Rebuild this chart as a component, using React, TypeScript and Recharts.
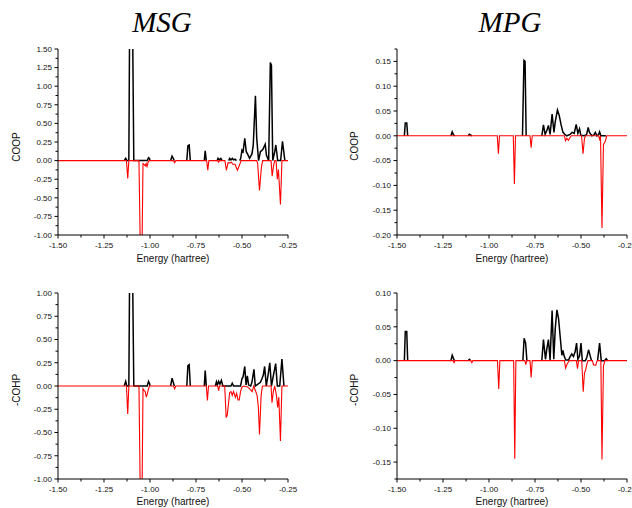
import React from 'react';
import { LineChart, Line, XAxis, YAxis } from 'recharts';

type Pt = [number, number | null];

const titles = ['MSG', 'MPG'];
const yLabels = ['COOP', '-COHP'];
const xLabel = 'Energy (hartree)';

const energyTicks = [-1.5, -1.25, -1.0, -0.75, -0.5, -0.25];
const msgCoopYTicks = [-1.0, -0.75, -0.5, -0.25, 0, 0.25, 0.5, 0.75, 1.0, 1.25, 1.5];
const msgCohpYTicks = [-1.0, -0.75, -0.5, -0.25, 0, 0.25, 0.5, 0.75, 1.0];
const mpgCoopYTicks = [-0.2, -0.15, -0.1, -0.05, 0, 0.05, 0.1, 0.15];
const mpgCohpYTicks = [-0.15, -0.1, -0.05, 0, 0.05, 0.1];

// MSG COOP (bonding, black) / (antibonding, red)
const msgCoopPos: Pt[] = [
  [-1.14, 0], [-1.132, 0.03], [-1.126, 0], [-1.115, 0], [-1.108, 3.0], [-1.099, 3.0], [-1.088, 0],
  [-1.06, 0], [-1.015, 0], [-1.008, 0.04], [-1.003, 0.03], [-1.0, 0], [-0.995, null],
  [-0.888, 0], [-0.88, 0.06], [-0.872, 0.02], [-0.868, 0], [-0.865, null],
  [-0.8, 0], [-0.794, 0.2], [-0.787, 0.21], [-0.781, 0], [-0.778, null],
  [-0.705, 0], [-0.7, 0.13], [-0.694, 0], [-0.69, null],
  [-0.635, 0], [-0.63, 0.03], [-0.624, 0.01], [-0.615, 0.03], [-0.608, 0], [-0.605, null],
  [-0.572, 0], [-0.567, 0.03], [-0.56, 0.01], [-0.552, 0.03], [-0.546, 0.01], [-0.538, 0.02], [-0.53, 0], [-0.527, null],
  [-0.512, 0], [-0.507, 0.03], [-0.5, 0.14], [-0.494, 0.12], [-0.485, 0.3], [-0.477, 0.12], [-0.468, 0.08],
  [-0.459, 0.03], [-0.446, 0.09], [-0.439, 0.2], [-0.427, 0.87], [-0.42, 0.3], [-0.41, 0], [-0.4, 0.12],
  [-0.387, 0.15], [-0.374, 0.22], [-0.367, 0.07], [-0.355, 0], [-0.346, 1.32], [-0.34, 1.28], [-0.333, 0],
  [-0.322, 0.12], [-0.316, 0.21], [-0.306, 0], [-0.29, 0], [-0.28, 0.26], [-0.267, 0],
];
const msgCoopNeg: Pt[] = [
  [-1.5, 0], [-1.128, 0], [-1.121, -0.24], [-1.115, 0], [-1.06, 0], [-1.052, -1.3], [-1.044, -1.3],
  [-1.038, -0.04], [-1.032, -0.05], [-1.026, -0.07], [-1.021, -0.04], [-1.016, -0.08], [-1.01, -0.02], [-1.005, 0],
  [-0.872, 0], [-0.866, -0.03], [-0.86, 0], [-0.692, 0], [-0.686, -0.13], [-0.68, 0],
  [-0.632, 0], [-0.627, -0.02], [-0.622, 0], [-0.593, 0], [-0.585, -0.13], [-0.576, -0.03], [-0.567, -0.03],
  [-0.558, -0.02], [-0.55, -0.05], [-0.538, -0.05], [-0.525, -0.13], [-0.512, -0.05], [-0.505, 0],
  [-0.42, 0], [-0.415, -0.04], [-0.405, -0.4], [-0.395, -0.1], [-0.388, 0],
  [-0.342, 0], [-0.336, -0.21], [-0.328, -0.06], [-0.322, 0], [-0.315, 0], [-0.308, -0.25], [-0.302, -0.12],
  [-0.291, -0.59], [-0.283, 0], [-0.25, 0],
];

// MSG -COHP
const msgCohpPos: Pt[] = [
  [-1.14, 0], [-1.132, 0.05], [-1.126, 0], [-1.115, 0], [-1.108, 2.0], [-1.099, 2.0], [-1.088, 0],
  [-1.06, 0], [-1.015, 0], [-1.008, 0.05], [-1.003, 0.03], [-1.0, 0], [-0.995, null],
  [-0.888, 0], [-0.88, 0.085], [-0.872, 0.03], [-0.868, 0], [-0.865, null],
  [-0.8, 0], [-0.794, 0.22], [-0.787, 0.23], [-0.781, 0], [-0.778, null],
  [-0.705, 0], [-0.7, 0.165], [-0.694, 0], [-0.69, null],
  [-0.645, 0], [-0.639, 0.045], [-0.634, 0.01], [-0.627, 0.05], [-0.62, 0.02], [-0.612, 0.06], [-0.604, 0],
  [-0.56, 0], [-0.553, 0.03], [-0.546, 0], [-0.508, 0], [-0.5, 0.08], [-0.494, 0.1], [-0.485, 0.21],
  [-0.478, 0.01], [-0.471, 0.11], [-0.464, 0.01], [-0.453, 0], [-0.446, 0.04], [-0.435, 0.18], [-0.428, 0],
  [-0.4, 0.04], [-0.391, 0.08], [-0.384, 0.12], [-0.377, 0.21], [-0.368, 0], [-0.359, 0.11], [-0.349, 0.25],
  [-0.34, 0], [-0.326, 0.15], [-0.317, 0.24], [-0.308, 0], [-0.295, 0], [-0.283, 0.29], [-0.272, 0],
];
const msgCohpNeg: Pt[] = [
  [-1.5, 0], [-1.128, 0], [-1.121, -0.3], [-1.115, 0], [-1.06, 0], [-1.052, -1.3], [-1.044, -1.3],
  [-1.038, -0.03], [-1.032, -0.05], [-1.026, -0.06], [-1.02, -0.12], [-1.014, -0.08], [-1.008, -0.03], [-1.003, 0],
  [-0.872, 0], [-0.866, -0.03], [-0.86, 0], [-0.694, 0], [-0.688, -0.155], [-0.682, 0],
  [-0.632, 0], [-0.627, -0.05], [-0.622, 0], [-0.594, 0], [-0.586, -0.34], [-0.58, -0.31], [-0.567, -0.07],
  [-0.56, -0.06], [-0.553, -0.1], [-0.546, -0.06], [-0.536, -0.12], [-0.529, -0.08], [-0.522, -0.15],
  [-0.515, -0.15], [-0.508, -0.06], [-0.5, -0.01], [-0.49, 0], [-0.47, -0.01], [-0.458, -0.03], [-0.445, -0.06],
  [-0.436, 0], [-0.418, -0.1], [-0.411, -0.23], [-0.405, -0.52], [-0.396, -0.1], [-0.389, 0],
  [-0.342, 0], [-0.337, -0.18], [-0.33, -0.06], [-0.322, 0], [-0.313, -0.1], [-0.306, -0.23], [-0.3, -0.12],
  [-0.291, -0.59], [-0.283, 0], [-0.25, 0],
];

// MPG COOP
const mpgCoopPos: Pt[] = [
  [-1.46, 0], [-1.455, 0.026], [-1.447, 0.026], [-1.442, 0], [-1.438, null],
  [-1.207, 0], [-1.2, 0.008], [-1.193, 0.002], [-1.186, 0], [-1.18, null],
  [-1.113, 0], [-1.107, 0.003], [-1.098, 0.001], [-1.092, 0], [-1.088, null],
  [-0.818, 0], [-0.81, 0.152], [-0.804, 0.15], [-0.798, 0], [-0.794, null],
  [-0.713, 0], [-0.704, 0.022], [-0.695, 0.003], [-0.686, 0.01], [-0.677, 0.021], [-0.668, 0.003],
  [-0.657, 0.044], [-0.647, 0.007], [-0.64, 0.028], [-0.628, 0.052], [-0.619, 0.042], [-0.608, 0.022],
  [-0.598, 0.007], [-0.589, 0.003], [-0.577, 0], [-0.559, 0.003], [-0.548, 0.007], [-0.537, 0.005],
  [-0.526, 0.023], [-0.517, 0.005], [-0.508, 0.014], [-0.501, 0.001], [-0.483, 0], [-0.47, 0.002],
  [-0.461, 0.017], [-0.454, 0.007], [-0.441, 0], [-0.43, 0.002], [-0.422, 0.007], [-0.414, 0],
  [-0.405, 0.002], [-0.399, 0.008], [-0.392, 0], [-0.365, 0],
];
const mpgCoopNeg: Pt[] = [
  [-1.5, 0], [-0.955, 0], [-0.949, -0.036], [-0.943, 0], [-0.868, 0], [-0.862, -0.097], [-0.856, 0],
  [-0.777, 0], [-0.771, -0.024], [-0.765, 0], [-0.59, 0], [-0.584, -0.01], [-0.577, -0.005], [-0.568, -0.009],
  [-0.56, -0.004], [-0.553, 0], [-0.497, 0], [-0.489, -0.036], [-0.481, -0.005], [-0.475, 0],
  [-0.404, 0], [-0.399, -0.007], [-0.394, 0], [-0.386, -0.186], [-0.378, -0.018], [-0.367, -0.01], [-0.36, 0],
  [-0.25, 0],
];

// MPG -COHP
const mpgCohpPos: Pt[] = [
  [-1.46, 0], [-1.455, 0.043], [-1.447, 0.043], [-1.442, 0], [-1.438, null],
  [-1.207, 0], [-1.2, 0.008], [-1.193, 0.003], [-1.187, 0], [-1.18, null],
  [-1.113, 0], [-1.107, 0.002], [-1.1, 0], [-1.095, null],
  [-0.816, 0], [-0.809, 0.033], [-0.801, 0.026], [-0.794, 0], [-0.79, null],
  [-0.713, 0], [-0.704, 0.031], [-0.693, 0.002], [-0.686, 0.017], [-0.677, 0.031], [-0.668, 0.001],
  [-0.657, 0.074], [-0.648, 0.002], [-0.64, 0.047], [-0.631, 0.075], [-0.622, 0.062], [-0.613, 0.035],
  [-0.604, 0.008], [-0.598, 0.015], [-0.592, 0.007], [-0.583, 0.001], [-0.568, 0.001], [-0.559, 0.006],
  [-0.55, 0.01], [-0.541, 0.006], [-0.532, 0.013], [-0.524, 0.026], [-0.517, 0.002], [-0.508, 0.007],
  [-0.5, 0.026], [-0.493, 0], [-0.476, 0], [-0.468, 0.005], [-0.459, 0.016], [-0.45, 0.007], [-0.443, 0],
  [-0.439, null], [-0.41, 0], [-0.399, 0.026], [-0.39, 0], [-0.372, 0], [-0.363, 0.003], [-0.355, 0],
];
const mpgCohpNeg: Pt[] = [
  [-1.5, 0], [-1.195, 0], [-1.19, -0.003], [-1.185, 0], [-1.098, 0], [-1.093, -0.003], [-1.088, 0],
  [-0.954, 0], [-0.947, -0.042], [-0.941, 0], [-0.866, 0], [-0.86, -0.145], [-0.854, 0],
  [-0.805, 0], [-0.8, -0.006], [-0.795, 0], [-0.777, 0], [-0.771, -0.025], [-0.765, 0],
  [-0.59, 0], [-0.584, -0.011], [-0.577, -0.006], [-0.571, -0.003], [-0.565, 0],
  [-0.525, 0], [-0.519, -0.012], [-0.513, 0], [-0.496, 0], [-0.488, -0.046], [-0.481, -0.018],
  [-0.476, -0.015], [-0.468, -0.005], [-0.462, 0], [-0.438, 0], [-0.432, -0.006], [-0.42, -0.007],
  [-0.412, 0], [-0.392, 0], [-0.386, -0.146], [-0.378, -0.008], [-0.37, 0], [-0.25, 0],
];

const SANS = '"Liberation Sans", Arial, sans-serif';
const TXT = '#111';

function buildTicks(lo: number, hi: number, step: number): number[] {
  const out: number[] = [];
  const n = Math.round((hi - lo) / step);
  for (let i = 0; i <= n; i++) out.push(Math.round((lo + i * step) * 10000) / 10000);
  return out;
}
const isMajor = (v: number, majors: number[]) => majors.some((m) => Math.abs(m - v) < 1e-6);

const XTick = (props: any) => {
  const { x, y, payload } = props;
  const major = isMajor(payload.value, energyTicks);
  return (
    <g>
      <line x1={x} x2={x} y1={y} y2={y + (major ? 3.5 : 2.5)} stroke="#000" strokeWidth={1} />
      {major && (
        <text x={x} y={y + 12.5} textAnchor="middle" fontSize={8} fontFamily={SANS} fill={TXT}>
          {Number(payload.value).toFixed(2)}
        </text>
      )}
    </g>
  );
};

const makeYTick = (majors: number[]) => (props: any) => {
  const { x, y, payload } = props;
  const major = isMajor(payload.value, majors);
  return (
    <g>
      <line x1={x} x2={x - (major ? 3.5 : 2.5)} y1={y} y2={y} stroke="#000" strokeWidth={1} />
      {major && (
        <text x={x - 6} y={y + 2.8} textAnchor="end" fontSize={8} fontFamily={SANS} fill={TXT}>
          {Number(payload.value).toFixed(2)}
        </text>
      )}
    </g>
  );
};

const rows = (pts: Pt[]) => pts.map(([x, y]) => ({ x, y }));

interface PanelProps {
  left: number;
  top: number;
  width: number;
  height: number;
  mTop: number;
  mRight: number;
  yW: number;
  xH: number;
  yDomain: [number, number];
  yMajors: number[];
  yMinorStep: number;
  pos: Pt[];
  neg: Pt[];
}

function Panel(p: PanelProps) {
  const xTicks = buildTicks(-1.5, -0.25, 0.125);
  const yTicks = buildTicks(p.yDomain[0], p.yDomain[1], p.yMinorStep);
  return (
    <div style={{ position: 'absolute', left: p.left, top: p.top }}>
      <LineChart width={p.width} height={p.height} margin={{ top: p.mTop, right: p.mRight, bottom: 0, left: 0 }}>
        <XAxis
          type="number"
          dataKey="x"
          domain={[-1.5, -0.25]}
          ticks={xTicks}
          interval={0}
          tickSize={0}
          tickMargin={0}
          tickLine={false}
          axisLine={{ stroke: '#000', strokeWidth: 1 }}
          height={p.xH}
          tick={XTick}
          allowDataOverflow
        />
        <YAxis
          type="number"
          domain={p.yDomain}
          ticks={yTicks}
          interval={0}
          tickSize={0}
          tickMargin={0}
          tickLine={false}
          axisLine={{ stroke: '#000', strokeWidth: 1 }}
          width={p.yW}
          tick={makeYTick(p.yMajors)}
          allowDataOverflow
        />
        <Line
          data={rows(p.pos)}
          dataKey="y"
          type="linear"
          stroke="#000"
          strokeWidth={1.5}
          dot={false}
          activeDot={false}
          connectNulls={false}
          isAnimationActive={false}
        />
        <Line
          data={rows(p.neg)}
          dataKey="y"
          type="linear"
          stroke="#ff0000"
          strokeWidth={1.1}
          dot={false}
          activeDot={false}
          connectNulls={false}
          isAnimationActive={false}
        />
      </LineChart>
    </div>
  );
}

export default function App() {
  return (
    <div style={{ position: 'absolute', left: 0, top: 0, width: 632, height: 508, background: '#fff', overflow: 'hidden' }}>
      <Panel left={0} top={0} width={316} height={260} mTop={49} mRight={28} yW={58} xH={25}
        yDomain={[-1.0, 1.5]} yMajors={msgCoopYTicks} yMinorStep={0.125} pos={msgCoopPos} neg={msgCoopNeg} />
      <Panel left={316} top={0} width={316} height={260} mTop={49} mRight={5} yW={81} xH={25}
        yDomain={[-0.2, 0.175]} yMajors={mpgCoopYTicks} yMinorStep={0.025} pos={mpgCoopPos} neg={mpgCoopNeg} />
      <Panel left={0} top={260} width={316} height={248} mTop={33} mRight={28} yW={58} xH={29}
        yDomain={[-1.0, 1.0]} yMajors={msgCohpYTicks} yMinorStep={0.125} pos={msgCohpPos} neg={msgCohpNeg} />
      <Panel left={316} top={260} width={316} height={248} mTop={33} mRight={5} yW={81} xH={29}
        yDomain={[-0.175, 0.1]} yMajors={mpgCohpYTicks} yMinorStep={0.025} pos={mpgCohpPos} neg={mpgCohpNeg} />
      <svg width={632} height={508} style={{ position: 'absolute', left: 0, top: 0, pointerEvents: 'none' }}>
        <text x={162} y={32} textAnchor="middle" fontSize={29} fontStyle="italic" fontFamily='"Liberation Serif", "Times New Roman", serif' fill="#000">{titles[0]}</text>
        <text x={510} y={32} textAnchor="middle" fontSize={29} fontStyle="italic" fontFamily='"Liberation Serif", "Times New Roman", serif' fill="#000">{titles[1]}</text>
        <text x={173} y={261.5} textAnchor="middle" fontSize={10} fontFamily={SANS} fill={TXT}>{xLabel}</text>
        <text x={512} y={261.5} textAnchor="middle" fontSize={10} fontFamily={SANS} fill={TXT}>{xLabel}</text>
        <text x={173} y={505} textAnchor="middle" fontSize={10} fontFamily={SANS} fill={TXT}>{xLabel}</text>
        <text x={512} y={505} textAnchor="middle" fontSize={10} fontFamily={SANS} fill={TXT}>{xLabel}</text>
        <text transform="translate(19.5,147) rotate(-90)" textAnchor="middle" fontSize={10} fontFamily={SANS} fill={TXT}>{yLabels[0]}</text>
        <text transform="translate(357.9,146) rotate(-90)" textAnchor="middle" fontSize={10} fontFamily={SANS} fill={TXT}>{yLabels[0]}</text>
        <text transform="translate(19.5,390) rotate(-90)" textAnchor="middle" fontSize={10} fontFamily={SANS} fill={TXT}>{yLabels[1]}</text>
        <text transform="translate(357.9,390) rotate(-90)" textAnchor="middle" fontSize={10} fontFamily={SANS} fill={TXT}>{yLabels[1]}</text>
      </svg>
    </div>
  );
}
